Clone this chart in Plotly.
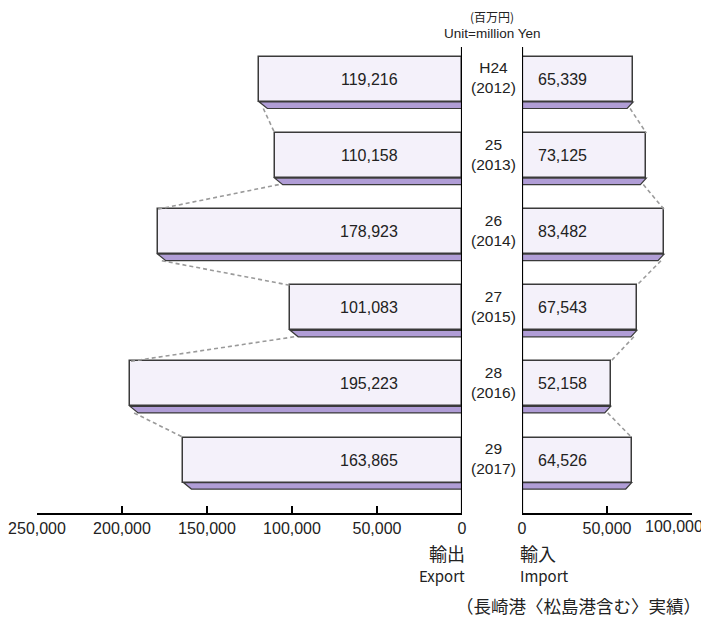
import plotly.graph_objects as go

# data
era_labels = ["H24", "25", "26", "27", "28", "29"]
year_labels = ["2012", "2013", "2014", "2015", "2016", "2017"]
export_vals = [119216, 110158, 178923, 101083, 195223, 163865]
import_vals = [65339, 73125, 83482, 67543, 52158, 64526]
export_ticks = [250000, 200000, 150000, 100000, 50000, 0]
import_ticks = [0, 50000, 100000]

# page is offset by the 8px body margin, so the figure is drawn 8px smaller
OFF = 8
W, H = 709 - OFF, 618 - OFF
TOP = 47 - OFF          # page y of plot top
BOT = 618 - 513         # axis line at page y 513
PH = H - TOP - BOT

FACE = "#f4f1fa"
EDGE = "#3a3a3a"
STRIP = "#b09dd6"
DASH = "#9a9a9a"
FONT = "Liberation Sans, Noto Sans CJK JP, sans-serif"
JFONT = "Noto Sans CJK JP"
TXT = "#222"

HALF = 0.296     # half bar height (y units)
DEPTH = 0.085    # bottom strip depth
SHIFT_L = 4700   # strip bevel on export side
SHIFT_R = 3500   # strip bevel on import side


def px_x(px):
    # page pixel -> paper x
    return (px - OFF) / W


def px_y(py):
    # page pixel -> paper y
    return (H - BOT - (py - OFF)) / PH


ys = list(range(len(era_labels)))

fig = go.Figure()

# bar faces
fig.add_trace(go.Bar(
    x=export_vals, y=ys, orientation="h", width=2 * HALF,
    marker=dict(color=FACE, line=dict(color=EDGE, width=1.5)),
    xaxis="x", yaxis="y", showlegend=False, hoverinfo="skip",
))
fig.add_trace(go.Bar(
    x=import_vals, y=ys, orientation="h", width=2 * HALF,
    marker=dict(color=FACE, line=dict(color=EDGE, width=1.5)),
    xaxis="x2", yaxis="y", showlegend=False, hoverinfo="skip",
))


# dashed connectors between bar ends
def connectors(vals, shift):
    xs, yy = [], []
    for i in range(len(vals) - 1):
        xs += [vals[i] - shift / 2, vals[i + 1], None]
        yy += [i + HALF + DEPTH, i + 1 - HALF, None]
    return xs, yy


cx, cy = connectors(export_vals, SHIFT_L)
fig.add_trace(go.Scatter(x=cx, y=cy, mode="lines", xaxis="x", yaxis="y",
                         line=dict(color=DASH, width=1.6, dash="4px,3px"),
                         showlegend=False, hoverinfo="skip"))
cx, cy = connectors(import_vals, SHIFT_R)
fig.add_trace(go.Scatter(x=cx, y=cy, mode="lines", xaxis="x2", yaxis="y",
                         line=dict(color=DASH, width=1.6, dash="4px,3px"),
                         showlegend=False, hoverinfo="skip"))

shapes = []
for i, (ev, iv) in enumerate(zip(export_vals, import_vals)):
    b = i + HALF
    shapes.append(dict(
        type="path", xref="x", yref="y", layer="above",
        path=f"M {ev},{b} L 0,{b} L 0,{b + DEPTH} L {ev - SHIFT_L},{b + DEPTH} Z",
        fillcolor=STRIP, line=dict(color=EDGE, width=1.2),
    ))
    shapes.append(dict(
        type="path", xref="x2", yref="y", layer="above",
        path=f"M 0,{b} L {iv},{b} L {iv - SHIFT_R},{b + DEPTH} L 0,{b + DEPTH} Z",
        fillcolor=STRIP, line=dict(color=EDGE, width=1.2),
    ))

# zero lines (vertical spines)
for xr in ("x", "x2"):
    shapes.append(dict(type="line", xref=xr, yref="paper", x0=0, x1=0, y0=0, y1=1,
                       line=dict(color="black", width=2.2)))

annotations = []
for i in ys:
    annotations.append(dict(x=54700, y=i, xref="x", yref="y", text=f"{export_vals[i]:,}",
                            xanchor="center", yanchor="middle", showarrow=False,
                            font=dict(size=16, color=TXT)))
    annotations.append(dict(x=8200, y=i, xref="x2", yref="y", text=f"{import_vals[i]:,}",
                            xanchor="left", yanchor="middle", showarrow=False,
                            font=dict(size=16, color=TXT)))
    annotations.append(dict(x=px_x(493), y=i - 0.02, xref="paper", yref="y",
                            text=f"{era_labels[i]}<br>({year_labels[i]})",
                            xanchor="center", yanchor="middle", showarrow=False,
                            font=dict(size=15.5, color=TXT)))

# last import tick label sits left of its tick in the reference
annotations.append(dict(x=100000, y=0, xref="x2", yref="paper", text=f"{import_ticks[-1]:,}",
                        xanchor="center", yanchor="top", xshift=-18, yshift=-4, borderpad=0,
                        showarrow=False, font=dict(size=16, color=TXT)))


def note(px, py, text, size, xanchor="center", family=JFONT):
    return dict(x=px_x(px), y=px_y(py), xref="paper", yref="paper", text=text,
                xanchor=xanchor, yanchor="middle", showarrow=False, borderpad=0,
                font=dict(size=size, color=TXT, family=family))


annotations += [
    note(492, 16.5, "(百万円)", 12),
    note(492, 33, "Unit=million Yen", 13.5, family="Liberation Sans"),
    note(466, 553, "輸出", 18, "right"),
    note(466, 575, "Export", 15, "right"),
    note(519, 553, "輸入", 18, "left"),
    note(519, 575, "Import", 15, "left"),
    note(578, 605, "（長崎港〈松島港含む〉実績）", 17.5),
]

axis_common = dict(showgrid=False, zeroline=False, showline=True, linecolor="black",
                   linewidth=1.8, ticks="inside", ticklen=7, tickwidth=2, tickcolor="black",
                   tickfont=dict(size=16, color=TXT), ticklabeloverflow="allow",
                   automargin=False, fixedrange=True)

fig.update_layout(
    width=W, height=H,
    margin=dict(l=0, r=0, t=TOP, b=BOT, autoexpand=False),
    paper_bgcolor="white", plot_bgcolor="white",
    font=dict(family=FONT, color=TXT),
    barmode="overlay", bargap=0,
    xaxis=dict(domain=[px_x(37), px_x(462)], range=[250000, 0], anchor="y",
               tickvals=export_ticks, ticktext=[f"{v:,}" for v in export_ticks],
               **axis_common),
    xaxis2=dict(domain=[px_x(522), px_x(692)], range=[0, 100000], anchor="y",
                tickvals=import_ticks,
                ticktext=[f"{v:,}" if v < 100000 else "" for v in import_ticks],
                **axis_common),
    yaxis=dict(range=[5.696, -0.427], visible=False, fixedrange=True, automargin=False),
    shapes=shapes,
    annotations=annotations,
)

fig.write_html("out.html")
